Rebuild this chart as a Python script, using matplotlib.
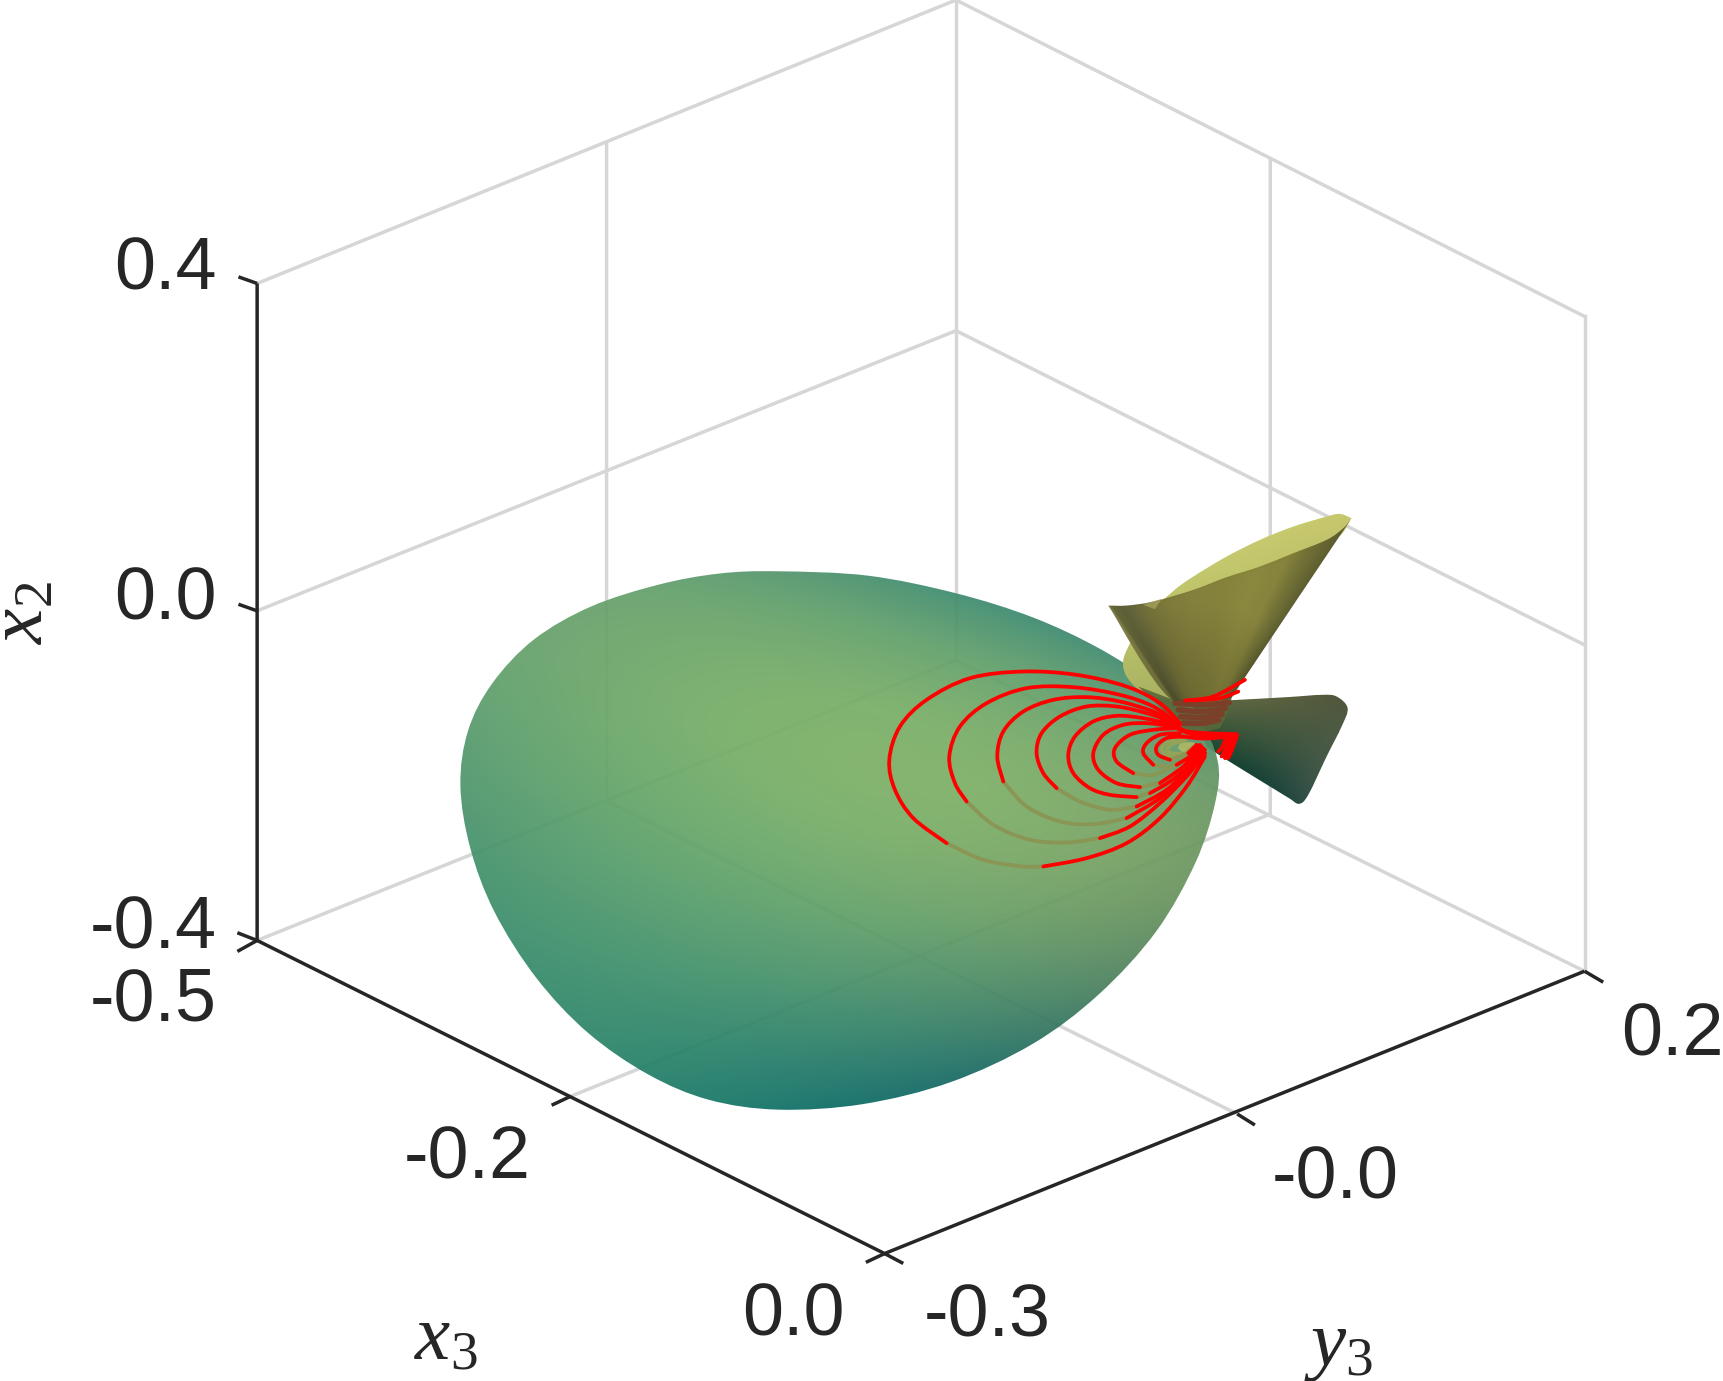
import numpy as np
import matplotlib
matplotlib.use("Agg")
import matplotlib.pyplot as plt
from matplotlib.path import Path
from matplotlib.patches import PathPatch

OUT_PATH = "out.png"

TICK_TEXT = ["0.4", "0.0", "-0.4", "-0.5", "-0.2", "0.0", "-0.3", "-0.0", "0.2"]
TICK_X = [197, 197, 197, 197, 425, 722, 898, 1215, 1522]
TICK_Y = [246, 546, 846, 911, 1055, 1198, 1199, 1073, 943]
TICK_HA = ["right", "right", "right", "right", "center", "center", "center", "center", "center"]

GRID_LINES = [
    [(234, 856), (870, 601), (1442, 884)],
    [(234, 556), (870, 301), (1442, 587)],
    [(234, 258), (870, 0), (1442, 288)],
    [(870, 601), (870, 0)],
    [(1442, 884), (1442, 288)],
    [(519, 998), (1156, 741), (1156, 145)],
    [(1126, 1014), (552, 729), (552, 131)],
]
AXIS_LINES = [
    [(234, 258), (234, 856), (805, 1141), (1442, 884)],
    [(234, 258), (217, 252)],
    [(234, 556), (217, 550)],
    [(234, 856), (216, 849)],
    [(234, 856), (216, 866)],
    [(519, 998), (502, 1006)],
    [(805, 1141), (788, 1149)],
    [(805, 1141), (822, 1150)],
    [(1126, 1014), (1142, 1024)],
    [(1442, 884), (1459, 894)],
]

BLOB_OUTLINE = [
    (708, 520), (790, 524), (870, 540), (940, 562), (1000, 590), (1050, 622),
    (1090, 655), (1108, 692), (1106, 730), (1088, 785), (1052, 848), (1000, 905),
    (940, 950), (865, 985), (785, 1005), (708, 1010), (645, 1001), (590, 978),
    (535, 940), (488, 890), (450, 830), (428, 772), (419, 715), (426, 665),
    (448, 622), (486, 582), (538, 552), (600, 532), (655, 522),
]
BLOB_SHADE = [
    (710, 530, "#6aa576"), (850, 548, "#5a9b76"), (960, 572, "#46907a"), (1030, 608, "#40897a"),
    (700, 650, "#7cb071"), (850, 640, "#80b16f"), (950, 720, "#88b673"), (1080, 680, "#82ad70"),
    (560, 620, "#70a974"), (470, 650, "#67a475"), (430, 720, "#5fa075"), (560, 760, "#6bab74"),
    (720, 800, "#6fa972"), (900, 830, "#72a36f"), (1060, 780, "#6f9b6a"), (1020, 860, "#5f8e6b"),
    (500, 870, "#4a9676"), (650, 900, "#4a9674"), (800, 920, "#4a8f71"), (930, 930, "#4a886e"),
    (600, 960, "#318873"), (710, 1005, "#237a70"), (850, 975, "#317e70"),
]

LOWER_CONE = [
    [(1000, 650), (1115, 631)],
    [(1115, 631), (1280, 622), (1385, 615), (1430, 620), (1463, 655), (1445, 710), (1400, 800),
     (1345, 915), (1318, 942), (1292, 928)],
    [(1292, 928), (1100, 810), (1040, 770)],
]
LOWER_SHADE = [
    (1150, 650, "#55603f"), (1400, 635, "#525a3e"), (1430, 690, "#4e5a40"), (1250, 720, "#465a3e"),
    (1130, 720, "#3f5a3c"), (1160, 800, "#234737"), (1300, 900, "#2c4d42"), (1340, 820, "#3b5344"),
]
YELLOW_BACK = [
    [(1475, 85), (1440, 72), (1400, 80), (1300, 110), (1200, 150), (1100, 200), (1000, 260), (950, 295), (905, 335)],
    [(905, 335), (1100, 270), (1400, 165), (1475, 85)],
]
YELLOW_LOBE = [
    [(815, 450), (790, 510), (800, 560), (850, 610), (920, 630)],
    [(920, 630), (960, 630), (815, 450)],
]
YELLOW_SHADE = [
    (1440, 90, "#c4c46d"), (1300, 130, "#cccf70"), (1100, 215, "#c4c96e"), (950, 310, "#b8bc66"),
    (810, 500, "#bcc46c"), (860, 590, "#a9b462"), (920, 610, "#a9b060"),
]
FRONT_CONE = [
    [(745, 347), (800, 347), (880, 335), (1000, 300), (1100, 262), (1200, 230), (1300, 190), (1400, 150),
     (1450, 115), (1475, 85)],
    [(1475, 85), (1150, 570), (1115, 628)],
    [(1115, 628), (935, 630), (745, 347)],
]
FRONT_APEX = (1022, 760)
FRONT_ANGLES = [-34, -33, -30, -26, -20, -12, -3, 8, 18, 25, 30, 34]
FRONT_COLORS = ["#7f7e46", "#626338", "#5c5e35", "#66663a", "#757338", "#7f7b3b", "#837f3c",
                "#85823c", "#8a873e", "#85833c", "#6e6e35", "#5c5d30"]
RIM_SPOT = [(850, 345), (905, 327), (885, 358)]

NECK = [
    (835, 590), (935, 628), (1115, 628), (1105, 665), (1080, 715), (1030, 728), (975, 720), (920, 670),
]
NECK_STRIPES = [
    [(945, 640), (1030, 645), (1108, 638)],
    [(955, 660), (1030, 665), (1096, 655)],
    [(962, 680), (1030, 683), (1086, 673)],
    [(970, 700), (1030, 700), (1076, 690)],
]

RING_TOPS = [
    [(960, 700), (900, 640), (800, 590), (650, 555), (490, 545), (330, 565), (200, 630), (120, 710), (88, 810), (105, 900), (160, 985), (260, 1060)],
    [(960, 705), (880, 650), (780, 615), (640, 592), (500, 595), (380, 640), (300, 710), (268, 800), (285, 880), (320, 935)],
    [(950, 700), (880, 665), (780, 635), (680, 622), (580, 630), (490, 665), (430, 725), (412, 800), (430, 875)],
    [(950, 700), (860, 670), (770, 650), (680, 650), (600, 680), (545, 730), (530, 790), (550, 850), (590, 895)],
    [(940, 705), (850, 685), (770, 678), (700, 695), (645, 740), (625, 795), (640, 850), (690, 895), (750, 915), (830, 922)],
    [(940, 710), (860, 700), (790, 705), (730, 735), (700, 790), (715, 840), (770, 880), (840, 892)],
    [(950, 715), (880, 720), (810, 735), (765, 775), (770, 815), (820, 850)],
    [(960, 730), (900, 735), (860, 760), (850, 790), (880, 825)],
    [(970, 740), (920, 745), (890, 770), (895, 795), (930, 810)],
]
RING_UNDERS = [
    [(260, 1060), (370, 1110), (490, 1130), (550, 1130)],
    [(320, 935), (400, 1005), (510, 1050), (620, 1058), (720, 1045)],
    [(430, 875), (500, 950), (600, 995), (700, 1003), (800, 985)],
    [(590, 895), (660, 935), (750, 960), (830, 950)],
    [(830, 922), (870, 910)],
    [(840, 892), (900, 880)],
    [(820, 850), (880, 855), (950, 825)],
    [(880, 825), (930, 830), (990, 800)],
    [(930, 810), (985, 790)],
]
RING_BOTTOMS = [
    [(550, 1130), (680, 1105), (800, 1060), (900, 985), (980, 890), (1035, 800)],
    [(720, 1045), (810, 1010), (900, 940), (980, 860), (1035, 790)],
    [(800, 985), (900, 925), (980, 850), (1035, 790)],
    [(830, 950), (920, 900), (990, 830), (1035, 780)],
    [(870, 910), (930, 875), (990, 825), (1030, 775)],
    [(900, 880), (970, 830), (1025, 770)],
    [(950, 825), (990, 800), (1020, 770)],
    [(990, 800), (1020, 765)],
    [(985, 790), (1010, 765)],
]
INNER_RINGS = [
    [(975, 745), (930, 755), (905, 775), (920, 795), (960, 800), (1000, 770)],
    [(975, 752), (940, 762), (920, 778), (935, 790), (965, 792)],
]
CENTRE_SPOT = [(965, 760), (1000, 758), (1005, 775), (975, 788), (955, 775)]

RED_BAND = [
    [(905, 665), (960, 715), (1010, 728), (1130, 733)],
    [(905, 690), (965, 722), (1010, 735), (1128, 740)],
    [(930, 735), (1010, 745), (1060, 745), (1120, 738)],
    [(1132, 735), (1118, 775), (1105, 805)],
    [(1120, 740), (1108, 775), (1095, 805)],
    [(1108, 745), (1098, 775), (1085, 800)],
    [(1096, 745), (1088, 770), (1075, 785)],
    [(975, 632), (1060, 620), (1155, 570)],
    [(1000, 632), (1080, 625), (1135, 605)],
]


def detail(points):
    # 3x crop pixels to reference pixels
    pts = np.array([p[:2] for p in points], dtype=float)
    full = pts / 3 + np.array([860, 490])
    return full / 1.0989


def undetail(x, y):
    return (x * 1.0989 - 860) * 3, (y * 1.0989 - 490) * 3


def smooth_path(pts, closed=False):
    pts = np.asarray(pts, dtype=float)
    n = len(pts)
    if n < 3:
        return Path(pts)
    verts = [pts[0]]
    codes = [Path.MOVETO]
    stop = n if closed else n - 1
    for i in range(stop):
        if closed:
            p0, p1, p2, p3 = pts[i - 1], pts[i], pts[(i + 1) % n], pts[(i + 2) % n]
        else:
            p0, p1, p2, p3 = pts[max(i - 1, 0)], pts[i], pts[i + 1], pts[min(i + 2, n - 1)]
        verts += [p1 + (p2 - p0) / 6, p2 - (p3 - p1) / 6, p2]
        codes += [Path.CURVE4] * 3
    return Path(verts, codes)


def section_path(sections):
    # smooth sections joined at sharp corners
    verts = []
    codes = []
    for section in sections:
        part = smooth_path(detail(section))
        part_codes = list(part.codes) if part.codes is not None else [Path.MOVETO] + [Path.LINETO] * (len(part.vertices) - 1)
        if verts:
            part_codes[0] = Path.LINETO
        verts += list(part.vertices)
        codes += part_codes
    verts.append(verts[0])
    codes.append(Path.CLOSEPOLY)
    return Path(verts, codes)


def path_grid(path):
    box = path.get_extents()
    xs = np.arange(box.x0 - 2, box.x1 + 3, 0.5)
    ys = np.arange(box.y0 - 2, box.y1 + 3, 0.5)
    gx, gy = np.meshgrid(xs, ys)
    return xs, ys, gx, gy


def put_image(ax, img, xs, ys, path, alpha, zorder):
    # colours are what the picture shows over white, undo the transparency
    img = (img - (1 - alpha)) / alpha
    im = ax.imshow(np.clip(img, 0, 1), extent=(xs[0], xs[-1], ys[-1], ys[0]), alpha=alpha,
                   interpolation="bilinear", zorder=zorder, aspect="auto")
    patch = PathPatch(path, transform=ax.transData, fc="none", ec="none")
    ax.add_patch(patch)
    im.set_clip_path(patch)


def fit_fill(ax, path, samples, degree=2, alpha=1.0, zorder=2):
    # colour surface: least squares polynomial through the sampled colours
    xy = np.array([s[:2] for s in samples], dtype=float)
    rgb = np.array([matplotlib.colors.to_rgb(s[2]) for s in samples])
    cx, cy = xy.mean(axis=0)
    scale = max(xy.std(axis=0)) + 1

    def terms(x, y):
        u = (x - cx) / scale
        v = (y - cy) / scale
        return np.stack([u ** i * v ** j for i in range(degree + 1) for j in range(degree + 1 - i)], axis=-1)

    coef = np.linalg.lstsq(terms(xy[:, 0], xy[:, 1]), rgb, rcond=None)[0]
    xs, ys, gx, gy = path_grid(path)
    img = terms(gx, gy) @ coef
    put_image(ax, img, xs, ys, path, alpha, zorder)


def fan_fill(ax, path, zorder=4.5):
    # cone shading: colour by angle around the apex, darker towards it
    xs, ys, gx, gy = path_grid(path)
    zx, zy = undetail(gx, gy)
    dx = zx - FRONT_APEX[0]
    dy = FRONT_APEX[1] - zy
    angle = np.degrees(np.arctan2(dx, dy))
    rgb = np.array([matplotlib.colors.to_rgb(c) for c in FRONT_COLORS])
    img = np.stack([np.interp(angle, FRONT_ANGLES, rgb[:, k]) for k in range(3)], axis=-1)
    radius = np.hypot(dx, dy)
    img = img * np.interp(radius, [100, 250, 420], [0.82, 0.9, 1.0])[..., None]
    put_image(ax, img, xs, ys, path, 0.98, zorder)


def draw_curve(ax, pts, color, lw=2.1, zorder=5):
    ax.add_patch(PathPatch(smooth_path(pts), fc="none", ec=color, lw=lw,
                           capstyle="round", zorder=zorder))


def draw_box(ax):
    for line in GRID_LINES:
        xs, ys = zip(*line)
        ax.plot(xs, ys, color="#d6d6d6", lw=2.5, zorder=1, solid_joinstyle="miter")
    for line in AXIS_LINES:
        xs, ys = zip(*line)
        ax.plot(xs, ys, color="#262626", lw=2.5, zorder=1.5, solid_capstyle="butt")

    for text, x, y, ha in zip(TICK_TEXT, TICK_X, TICK_Y, TICK_HA):
        ax.text(x, y, text, ha=ha, va="center", fontsize=53,
                family="Liberation Sans", color="#262626", zorder=10)

    ax.text(18, 558, r"$x_2$", rotation=90, ha="center", va="center", fontsize=57, color="#262626")
    ax.text(406, 1218, r"$x_3$", ha="center", va="center", fontsize=57, color="#262626")
    ax.text(1218, 1225, r"$y_3$", ha="center", va="center", fontsize=57, color="#262626")


def draw_surfaces(ax):
    lower = [tuple(p) + (s[2],) for p, s in zip(detail(LOWER_SHADE), LOWER_SHADE)]
    fit_fill(ax, section_path(LOWER_CONE), lower, degree=2, zorder=2)

    fit_fill(ax, smooth_path(BLOB_OUTLINE, closed=True), BLOB_SHADE, degree=3, alpha=0.93, zorder=3)

    yellow = [tuple(p) + (s[2],) for p, s in zip(detail(YELLOW_SHADE), YELLOW_SHADE)]
    fit_fill(ax, section_path(YELLOW_BACK), yellow, degree=1, zorder=4)
    fit_fill(ax, section_path(YELLOW_LOBE), yellow, degree=1, zorder=4)

    ax.add_patch(PathPatch(Path(detail(NECK)), fc="#58683a", ec="none", alpha=0.9, zorder=4.2))

    fan_fill(ax, section_path(FRONT_CONE))
    ax.add_patch(PathPatch(Path(detail(RIM_SPOT)), fc="#a3a25a", ec="none", alpha=0.8, zorder=4.55))

    for line in NECK_STRIPES:
        draw_curve(ax, detail(line), "#7a4029", lw=4.0, zorder=4.6)


def draw_rings(ax):
    ax.add_patch(PathPatch(smooth_path(detail(CENTRE_SPOT), closed=True), fc="#a8b566", ec="none", zorder=4.8))
    for line in INNER_RINGS:
        draw_curve(ax, detail(line), "#93a358", lw=2.6, zorder=4.9)
    for line in RING_UNDERS:
        draw_curve(ax, detail(line), "#8a9656", lw=2.8, zorder=4.9)
    for line in RING_TOPS + RING_BOTTOMS + RED_BAND:
        draw_curve(ax, detail(line), "#ff0000", lw=2.7, zorder=5)


def main():
    plt.rcParams["mathtext.fontset"] = "custom"
    plt.rcParams["mathtext.rm"] = "Liberation Serif"
    plt.rcParams["mathtext.it"] = "Liberation Serif:italic"

    fig = plt.figure(figsize=(17.23, 13.81), dpi=100)
    ax = fig.add_axes([0, 0, 1, 1])
    ax.axis("off")

    draw_box(ax)
    draw_surfaces(ax)
    draw_rings(ax)
    ax.set_xlim(0, 1568)
    ax.set_ylim(1257, 0)

    fig.savefig(OUT_PATH, dpi=100)
    plt.close(fig)


if __name__ == "__main__":
    main()
